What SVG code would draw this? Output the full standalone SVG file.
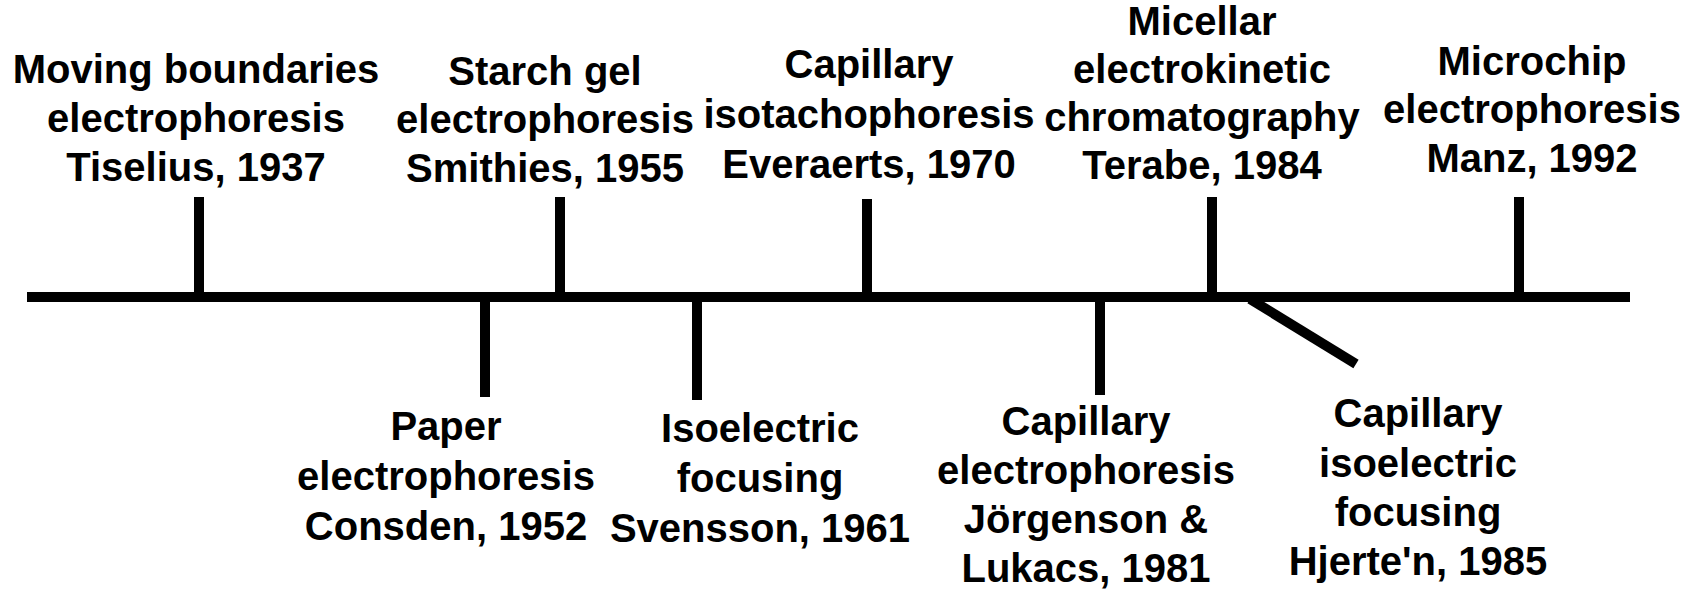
<svg xmlns="http://www.w3.org/2000/svg" width="1690" height="594" viewBox="0 0 1690 594">
<style>
text{font-family:"Liberation Sans",Arial,sans-serif;font-weight:bold;font-size:40px;fill:#000;text-anchor:middle}
.l{stroke:#000;stroke-width:10;fill:none}
</style>
<rect width="1690" height="594" fill="#fff"/>
<g id="connectors">
<line class="l" x1="27" y1="297" x2="1630" y2="297"/>
<line class="l" x1="199" y1="197" x2="199" y2="297"/>
<line class="l" x1="560" y1="197" x2="560" y2="297"/>
<line class="l" x1="867" y1="199" x2="867" y2="297"/>
<line class="l" x1="1212" y1="197" x2="1212" y2="297"/>
<line class="l" x1="1519" y1="197" x2="1519" y2="297"/>
<line class="l" x1="485" y1="297" x2="485" y2="397"/>
<line class="l" x1="697" y1="297" x2="697" y2="400"/>
<line class="l" x1="1100" y1="297" x2="1100" y2="395"/>
<line class="l" x1="1250" y1="299" x2="1356" y2="364"/>
</g>
<g id="n1"><text x="196" y="83">Moving boundaries</text><text x="196" y="132">electrophoresis</text><text x="196" y="181">Tiselius, 1937</text></g>
<g id="n2"><text x="545" y="85">Starch gel</text><text x="545" y="133">electrophoresis</text><text x="545" y="182">Smithies, 1955</text></g>
<g id="n3"><text x="869" y="78">Capillary</text><text x="869" y="128">isotachophoresis</text><text x="869" y="178">Everaerts, 1970</text></g>
<g id="n4"><text x="1202" y="35">Micellar</text><text x="1202" y="83">electrokinetic</text><text x="1202" y="131">chromatography</text><text x="1202" y="179">Terabe, 1984</text></g>
<g id="n5"><text x="1532" y="75">Microchip</text><text x="1532" y="123">electrophoresis</text><text x="1532" y="172">Manz, 1992</text></g>
<g id="n6"><text x="446" y="440">Paper</text><text x="446" y="490">electrophoresis</text><text x="446" y="540">Consden, 1952</text></g>
<g id="n7"><text x="760" y="442">Isoelectric</text><text x="760" y="492">focusing</text><text x="760" y="542">Svensson, 1961</text></g>
<g id="n8"><text x="1086" y="435">Capillary</text><text x="1086" y="484">electrophoresis</text><text x="1086" y="533">Jörgenson &amp;</text><text x="1086" y="582">Lukacs, 1981</text></g>
<g id="n9"><text x="1418" y="427">Capillary</text><text x="1418" y="477">isoelectric</text><text x="1418" y="526">focusing</text><text x="1418" y="575">Hjerte'n, 1985</text></g>
</svg>
